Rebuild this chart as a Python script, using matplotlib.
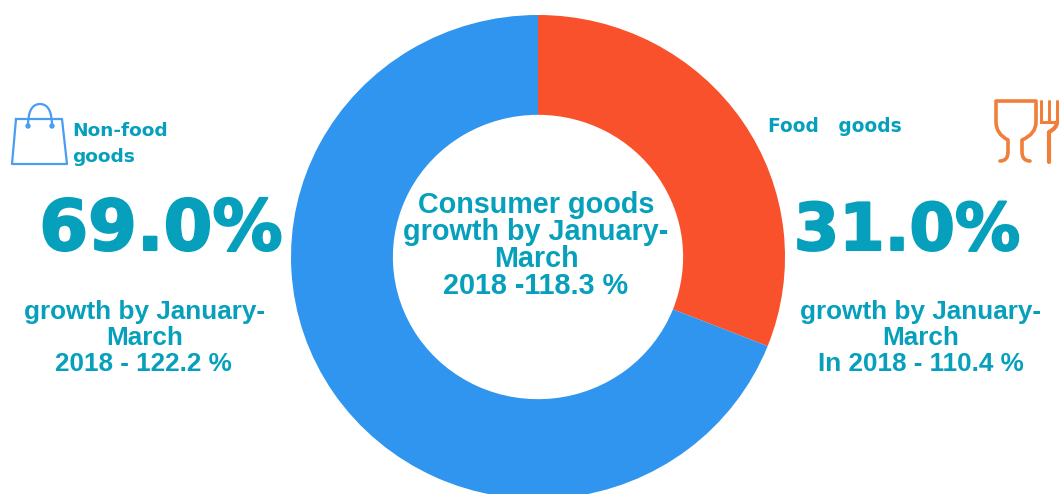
import matplotlib
matplotlib.use('Agg')

import matplotlib.pyplot as plt
import matplotlib.patheffects as pe
from matplotlib.patches import PathPatch, Circle
from matplotlib.path import Path

labels = ['Food goods', 'Non-food goods']
shares = [31.0, 69.0]
colors = ['#f9512b', '#3095ee']
teal = '#06a0bd'
blue = '#4a9df2'
orange = '#ef7f3a'
W, H = 1061, 494

fig = plt.figure(figsize=(W / 100, H / 100), dpi=100)
bg = fig.add_axes([0, 0, 1, 1])
bg.set_xlim(0, W)
bg.set_ylim(H, 0)
bg.axis('off')

# donut is slightly squashed in the reference: centre (538, 257), rx 247, ry 242
rx, ry = 247, 242
ax = fig.add_axes([(538 - rx) / W, 1 - (257 + ry) / H, 2 * rx / W, 2 * ry / H])
ax.pie(shares, colors=colors, startangle=90, counterclock=False, radius=1,
       wedgeprops={'width': 0.4125, 'linewidth': 0})
ax.set_aspect('auto')
ax.set_xlim(-1, 1)
ax.set_ylim(-1, 1)


def txt(x, y, s, size, family='Liberation Sans', ha='center', va='center', stroke=0):
    t = bg.text(x, y, s, fontsize=size, fontweight='bold', family=family, color=teal,
                ha=ha, va=va)
    if stroke:
        t.set_path_effects([pe.withStroke(linewidth=stroke, foreground=teal)])


def curve(verts, codes, color, lw):
    bg.add_patch(PathPatch(Path(verts, codes), fill=False, ec=color, lw=lw,
                           capstyle='round', joinstyle='round'))


for y, s in zip([205, 232, 259, 286],
                ['Consumer goods', 'growth by January-', 'March', '2018 -118.3 %']):
    txt(536, y, s, 20.7)

txt(161, 250, '69.0%', 50.5, family='DejaVu Sans', va='baseline', stroke=1.5)
txt(907, 250, '31.0%', 47, family='DejaVu Sans', va='baseline', stroke=1.5)

txt(145, 312, 'growth by January-', 18.8)
txt(145, 338, 'March', 18.8)
txt(143, 364, '2018 - 122.2 %', 18.8)
txt(921, 312, 'growth by January-', 18.8)
txt(921, 338, 'March', 18.8)
txt(921, 364, 'In 2018 - 110.4 %', 18.8)

txt(72, 131, 'Non-food', 13.3, ha='left', family='DejaVu Sans')
txt(72, 157, 'goods', 13.3, ha='left', family='DejaVu Sans')
txt(768, 126, 'Food   goods', 13.4, ha='left', family='DejaVu Sans')

# bag icon
bg.plot([16, 62, 67, 12, 16], [119, 119, 164, 164, 119], color=blue, lw=1.6)
curve([(28, 126), (28, 104), (40, 104), (52, 104), (52, 126)],
      [Path.MOVETO, Path.CURVE3, Path.CURVE3, Path.CURVE3, Path.CURVE3], blue, 1.6)
bg.add_patch(Circle((28, 126), 2, color=blue))
bg.add_patch(Circle((52, 126), 2, color=blue))

# glass icon
curve([(1000, 161), (1008, 161), (1008, 152), (1008, 140),
       (996, 134), (996, 122), (996, 101), (1036, 101), (1036, 122),
       (1036, 134), (1022, 140), (1022, 152), (1022, 161), (1030, 161)],
      [Path.MOVETO, Path.CURVE3, Path.CURVE3, Path.LINETO,
       Path.CURVE3, Path.CURVE3, Path.LINETO, Path.LINETO, Path.LINETO,
       Path.CURVE3, Path.CURVE3, Path.LINETO, Path.CURVE3, Path.CURVE3],
      orange, 2.6)

# fork icon
bg.plot([1041, 1041], [101, 121], color=orange, lw=2.2, solid_capstyle='round')
bg.plot([1049, 1049], [101, 121], color=orange, lw=2.2, solid_capstyle='round')
bg.plot([1057, 1057], [101, 122], color=orange, lw=2.2, solid_capstyle='round')
bg.plot([1041, 1057], [122, 122], color=orange, lw=2.2)
curve([(1057, 122), (1057, 128), (1049, 132), (1049, 162)],
      [Path.MOVETO, Path.CURVE3, Path.CURVE3, Path.LINETO], orange, 3)

plt.savefig('out.png', dpi=100)
